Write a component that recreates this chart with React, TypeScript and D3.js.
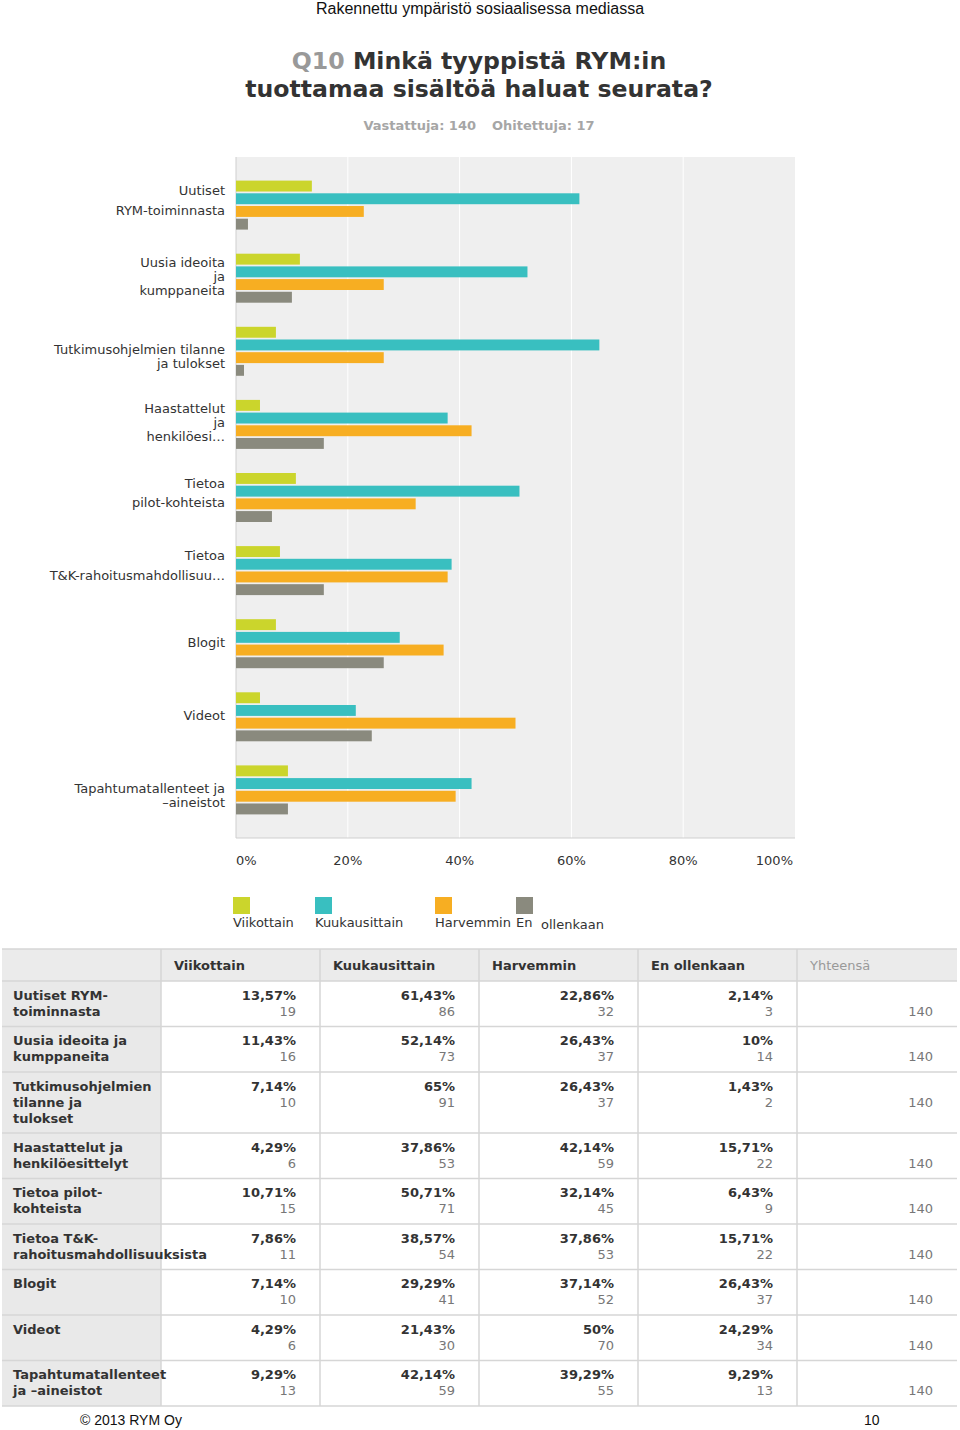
import React from "react";
import * as d3 from "d3";

// ---------- DATA ----------
const chartLabels: string[][] = [
  ["Uutiset", "RYM-toiminnasta"],
  ["Uusia ideoita", "ja", "kumppaneita"],
  ["Tutkimusohjelmien tilanne", "ja tulokset"],
  ["Haastattelut", "ja", "henkilöesi…"],
  ["Tietoa", "pilot-kohteista"],
  ["Tietoa", "T&K-rahoitusmahdollisuu…"],
  ["Blogit"],
  ["Videot"],
  ["Tapahtumatallenteet ja", "–aineistot"],
];
const tableLabels: string[][] = [
  ["Uutiset RYM-", "toiminnasta"],
  ["Uusia ideoita ja", "kumppaneita"],
  ["Tutkimusohjelmien", "tilanne ja", "tulokset"],
  ["Haastattelut ja", "henkilöesittelyt"],
  ["Tietoa pilot-", "kohteista"],
  ["Tietoa T&K-", "rahoitusmahdollisuuksista"],
  ["Blogit"],
  ["Videot"],
  ["Tapahtumatallenteet", "ja –aineistot"],
];
const seriesNames = ["Viikottain", "Kuukausittain", "Harvemmin", "En ollenkaan"];
const viikottain = [13.57, 11.43, 7.14, 4.29, 10.71, 7.86, 7.14, 4.29, 9.29];
const kuukausittain = [61.43, 52.14, 65, 37.86, 50.71, 38.57, 29.29, 21.43, 42.14];
const harvemmin = [22.86, 26.43, 26.43, 42.14, 32.14, 37.86, 37.14, 50, 39.29];
const enOllenkaan = [2.14, 10, 1.43, 15.71, 6.43, 15.71, 26.43, 24.29, 9.29];
const viikottainN = [19, 16, 10, 6, 15, 11, 10, 6, 13];
const kuukausittainN = [86, 73, 91, 53, 71, 54, 41, 30, 59];
const harvemminN = [32, 37, 37, 59, 45, 53, 52, 70, 55];
const enOllenkaanN = [3, 14, 2, 22, 9, 22, 37, 34, 13];
const totals = [140, 140, 140, 140, 140, 140, 140, 140, 140];
const xTicks = [0, 20, 40, 60, 80, 100];
const pageTitle = "Rakennettu ympäristö sosiaalisessa mediassa";
const qNumber = "Q10";
const titleLines = ["Minkä tyyppistä RYM:in", "tuottamaa sisältöä haluat seurata?"];
const answered = "Vastattuja: 140";
const skipped = "Ohitettuja: 17";
const totalHeader = "Yhteensä";
const footerLeft = "© 2013 RYM Oy";
const footerRight = "10";

// ---------- STYLE / LAYOUT ----------
const colors = ["#cbd52c", "#39bfc0", "#f7ae22", "#8a8a7e"];
const FONT = "'DejaVu Sans', sans-serif";
const plot = { left: 236, right: 795, top: 157, bottom: 838 };
const labelLineGap = [20, 14, 14, 14, 19, 20, 14, 14, 14];
const labelShift = [-5, -1.5, 5, -2, -5, -5, -1, -1, 6];
const tableCols = [2, 161, 320, 479, 638, 797, 957];
const headerTop = 949;
const headerBottom = 981;
const TFS = 13;

const fmtPct = (v: number) =>
  (Number.isInteger(v) ? String(v) : v.toFixed(2).replace(".", ",")) + "%";

export default function App() {
  const series = [viikottain, kuukausittain, harvemmin, enOllenkaan];
  const counts = [viikottainN, kuukausittainN, harvemminN, enOllenkaanN];
  const idx = d3.range(chartLabels.length);

  const x = d3.scaleLinear().domain([0, 100]).range([plot.left, plot.right]);
  const y = d3.scalePoint<number>().domain(idx).range([plot.top, plot.bottom]).padding(0.658);
  const inner = d3.scaleBand<number>().domain(d3.range(4)).range([-24.5, 24.5]).paddingInner(0.14);

  const rowHeights = tableLabels.map((l) => 45.5 + Math.max(0, l.length - 2) * 15.5);
  const rowTops: number[] = [];
  let acc = headerBottom;
  rowHeights.forEach((h) => {
    rowTops.push(acc);
    acc += h;
  });
  const tableBottom = acc;

  return (
    <svg
      width={960}
      height={1430}
      style={{ position: "absolute", left: 0, top: 0, background: "#fff" }}
      fontFamily={FONT}
    >
      {/* page header */}
      <text x={480} y={13.5} textAnchor="middle" fontFamily="'Liberation Sans', Arial, sans-serif" fontSize={16} fill="#111">
        {pageTitle}
      </text>
      <text x={479} y={69} textAnchor="middle" fontSize={23.6} fontWeight="bold" fill="#333">
        <tspan fill="#999">{qNumber}</tspan> {titleLines[0]}
      </text>
      <text x={479} y={97} textAnchor="middle" fontSize={23.6} fontWeight="bold" fill="#333">
        {titleLines[1]}
      </text>
      <text x={476} y={129.5} textAnchor="end" fontSize={13} fontWeight="bold" fill="#a6a6a6">
        {answered}
      </text>
      <text x={492} y={129.5} textAnchor="start" fontSize={13} fontWeight="bold" fill="#a6a6a6">
        {skipped}
      </text>

      {/* plot background */}
      <rect x={plot.left} y={plot.top} width={plot.right - plot.left} height={plot.bottom - plot.top} fill="#efefef" />
      {xTicks.slice(1, -1).map((t) => (
        <line key={t} x1={x(t)} x2={x(t)} y1={plot.top} y2={plot.bottom} stroke="#fff" strokeWidth={1} />
      ))}
      <line x1={plot.left} x2={plot.left} y1={plot.top} y2={plot.bottom} stroke="#cfcfcf" />
      <line x1={plot.left} x2={plot.right} y1={plot.bottom} y2={plot.bottom} stroke="#cfcfcf" />

      {/* bars */}
      {idx.map((i) =>
        series.map((s, k) => (
          <rect
            key={`${i}-${k}`}
            x={x(0)}
            y={(y(i) as number) + (inner(k) as number)}
            width={x(s[i]) - x(0)}
            height={inner.bandwidth()}
            fill={colors[k]}
          />
        ))
      )}

      {/* category labels */}
      {idx.map((i) => {
        const lines = chartLabels[i];
        const gap = labelLineGap[i];
        const c = (y(i) as number) + labelShift[i];
        const start = c - ((lines.length - 1) * gap) / 2;
        return (
          <text key={i} textAnchor="end" fontSize={13} fill="#333">
            {lines.map((ln, j) => (
              <tspan key={j} x={225} y={start + j * gap + 4.5}>
                {ln}
              </tspan>
            ))}
          </text>
        );
      })}

      {/* x tick labels */}
      {xTicks.map((t, j) => (
        <text
          key={t}
          x={j === 0 ? plot.left : j === xTicks.length - 1 ? plot.right - 2 : x(t)}
          y={865}
          fontSize={13}
          fill="#333"
          textAnchor={j === 0 ? "start" : j === xTicks.length - 1 ? "end" : "middle"}
        >
          {t}%
        </text>
      ))}

      {/* legend */}
      {[233, 315, 435, 516].map((lx, k) => (
        <g key={k}>
          <rect x={lx} y={897} width={17} height={17} fill={colors[k]} />
          {k < 3 ? (
            <text x={lx} y={927} fontSize={13} fill="#333">
              {seriesNames[k]}
            </text>
          ) : (
            <>
              <text x={lx} y={927} fontSize={13} fill="#333">
                {seriesNames[k].split(" ")[0]}
              </text>
              <text x={lx + 25} y={929} fontSize={13} fill="#333">
                {seriesNames[k].split(" ")[1]}
              </text>
            </>
          )}
        </g>
      ))}

      {/* table backgrounds */}
      <rect x={tableCols[0]} y={headerTop} width={tableCols[6] - tableCols[0]} height={headerBottom - headerTop} fill="#ebebeb" />
      {idx.map((i) => (
        <rect key={`bg${i}`} x={tableCols[0]} y={rowTops[i]} width={tableCols[1] - tableCols[0]} height={rowHeights[i]} fill="#e9e9e9" />
      ))}

      {/* table grid */}
      {[headerTop, ...rowTops, tableBottom].map((yy, j) => (
        <line key={`h${j}`} x1={tableCols[0]} x2={tableCols[6]} y1={yy} y2={yy} stroke="#d6d6d6" strokeWidth={1.5} />
      ))}
      {tableCols.slice(1, -1).map((cx, j) => (
        <line key={`v${j}`} x1={cx} x2={cx} y1={headerTop} y2={tableBottom} stroke="#d6d6d6" strokeWidth={1.5} />
      ))}

      {/* table header text */}
      {seriesNames.map((n, k) => (
        <text key={n} x={tableCols[k + 1] + 13} y={969.5} fontSize={TFS} fontWeight="bold" fill="#333">
          {n}
        </text>
      ))}
      <text x={tableCols[5] + 13} y={969.5} fontSize={TFS} fill="#999">
        {totalHeader}
      </text>

      {/* table body text */}
      {idx.map((i) => {
        const top = rowTops[i];
        return (
          <g key={i}>
            <text fontSize={TFS} fontWeight="bold" fill="#333">
              {tableLabels[i].map((ln, j) => (
                <tspan key={j} x={13} y={top + 18.5 + j * 16}>
                  {ln}
                </tspan>
              ))}
            </text>
            {series.map((s, k) => (
              <g key={k}>
                <text x={tableCols[k + 2] - 24} y={top + 18.5} textAnchor="end" fontSize={TFS} fontWeight="bold" fill="#333">
                  {fmtPct(s[i])}
                </text>
                <text x={tableCols[k + 2] - 24} y={top + 34.5} textAnchor="end" fontSize={TFS} fill="#777">
                  {counts[k][i]}
                </text>
              </g>
            ))}
            <text x={tableCols[6] - 24} y={top + 34.5} textAnchor="end" fontSize={TFS} fill="#777">
              {totals[i]}
            </text>
          </g>
        );
      })}

      {/* footer */}
      <text x={80} y={1425} fontFamily="'Liberation Sans', Arial, sans-serif" fontSize={14} fill="#111">
        {footerLeft}
      </text>
      <text x={864} y={1425} fontFamily="'Liberation Sans', Arial, sans-serif" fontSize={14} fill="#111">
        {footerRight}
      </text>
    </svg>
  );
}
